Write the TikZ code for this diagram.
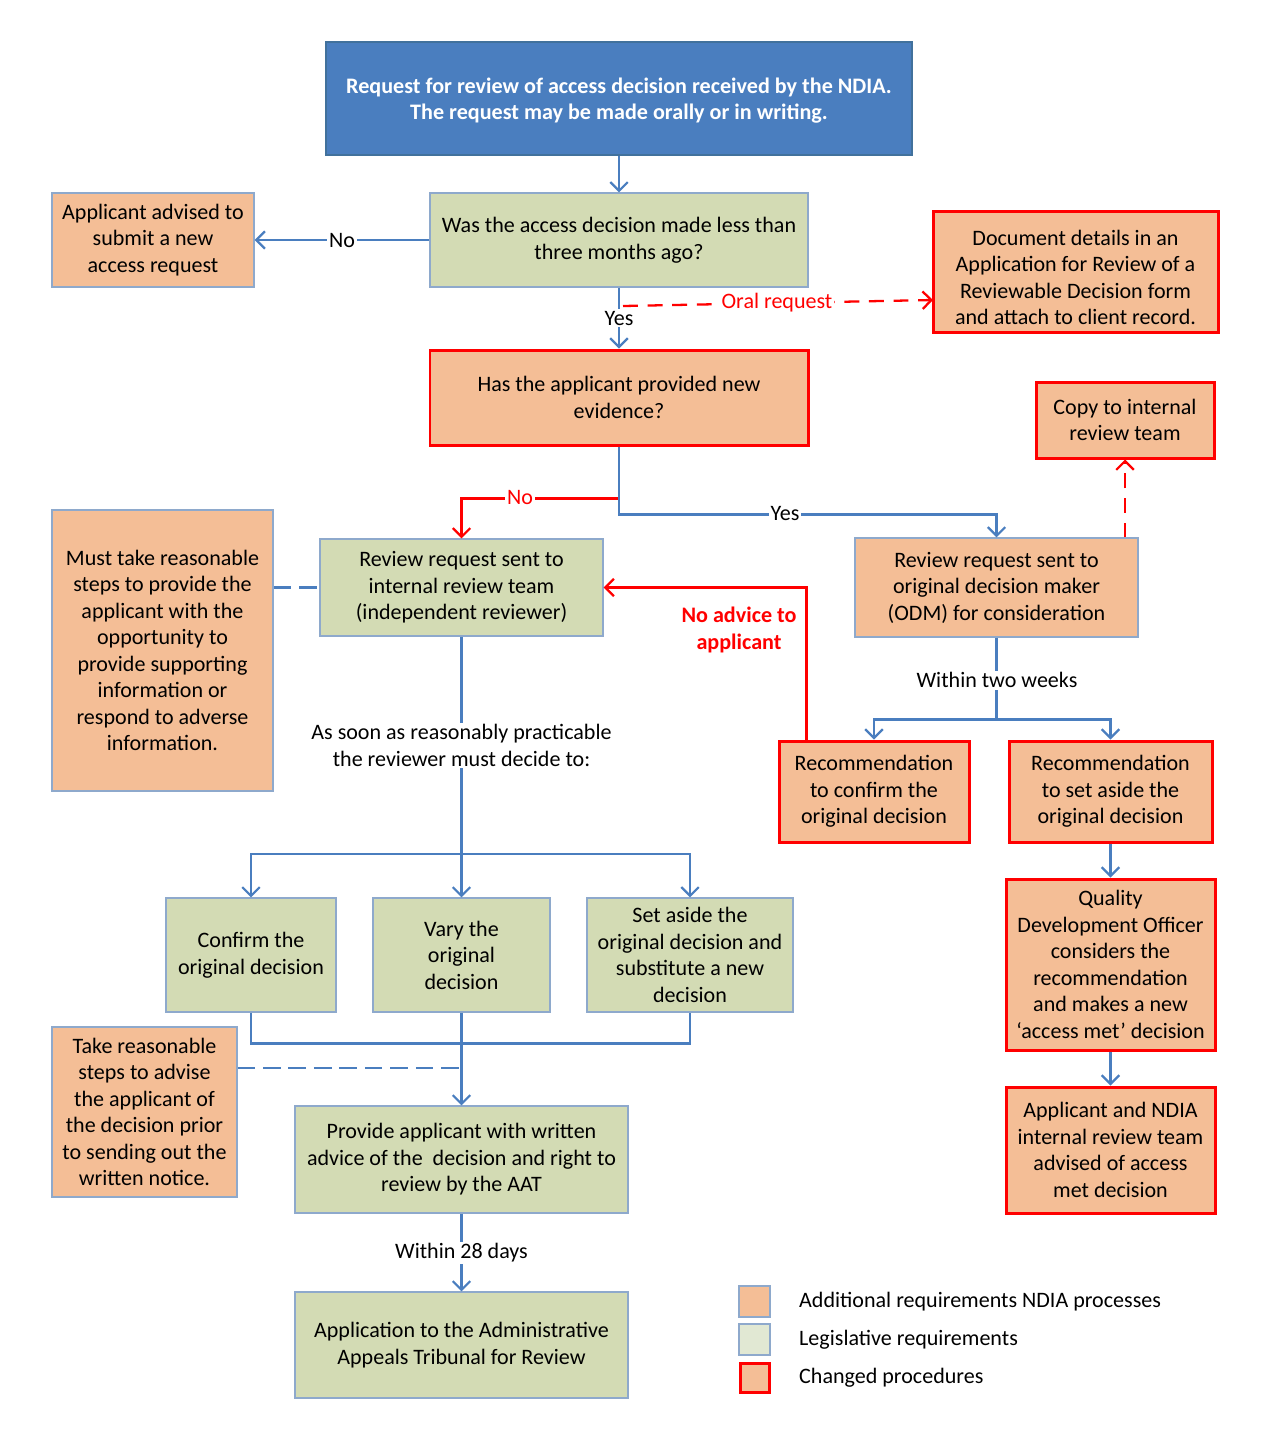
\documentclass[tikz,border=0pt]{standalone}
\usepackage{fontspec}
\setmainfont{Carlito}
\usetikzlibrary{arrows.meta}
\definecolor{hblue}{HTML}{4A7EBF}
\definecolor{hborder}{HTML}{41719C}
\definecolor{lblue}{HTML}{4A7EBF}
\definecolor{gfill}{HTML}{D3DBB4}
\definecolor{ofill}{HTML}{F4BE96}
\definecolor{bborder}{HTML}{8EA9CC}
\definecolor{legg}{HTML}{E1E8D3}
\definecolor{rred}{HTML}{FF0000}
\begin{document}
\begin{tikzpicture}[x=0.02cm,y=-0.02cm,
  font=\fontsize{12.55}{15.1}\selectfont,
  bx/.style 2 args={minimum width=#1*0.02cm, minimum height=#2*0.02cm, inner sep=0pt, align=center},
  hdr/.style={fill=hblue, draw=hborder, line width=0.6pt, text=white, font=\fontsize{12.6}{15.1}\selectfont\bfseries},
  grn/.style={fill=gfill, draw=bborder, line width=0.6pt},
  org/.style={fill=ofill, draw=bborder, line width=0.6pt},
  chg/.style={fill=ofill, draw=rred, line width=1.7pt},
  arr/.style={-{Straight Barb[length=5pt,width=10pt]}},
  bl/.style={draw=lblue, line width=1.3pt},
  rd/.style={draw=rred, line width=1.3pt},
  bdash/.style={draw=lblue, line width=1.3pt, dash pattern=on 10pt off 4.5pt},
  rdash/.style={draw=rred, line width=1.3pt, dash pattern=on 8.5pt off 5.5pt},
  lbl/.style={fill=white, inner sep=1pt},
  rlbl/.style={fill=white, inner sep=1pt, text=rred}
]
\useasboundingbox (0,0) rectangle (1273,1441);

% boxes
\node[hdr, bx={586}{113}] (head) at (619,98.5) {};
\node[align=center, inner sep=0pt, text=white, font=\fontsize{12.6}{15.1}\selectfont\bfseries] (headt) at (619,100.5) {Request for review of access decision received by the NDIA.\\The request may be made orally or in writing.};
\node[grn, bx={378}{94}] (q1) at (619,240) {Was the access decision made less than\\three months ago?};
\node[org, bx={202}{94}] (adv) at (153,240) {Applicant advised to\\submit a new\\access request};
\node[chg, bx={285}{121}] (doc) at (1075.5,271.5) {};
\node[align=center, inner sep=0pt] (doct) at (1075.5,277.5) {Document details in an\\Application for Review of a\\Reviewable Decision form\\and attach to client record.};
\node[chg, bx={378}{95}] (has) at (619,397.5) {Has the applicant provided new\\evidence?};
\node[chg, bx={178}{76}] (copy) at (1125,420) {Copy to internal\\review team};
\node[grn, bx={283}{97}] (rint) at (461.5,587.5) {Review request sent to\\internal review team\\(independent reviewer)};
\node[org, bx={221}{281}] (must) at (162.5,650.5) {Must take reasonable\\steps to provide the\\applicant with the\\opportunity to\\provide supporting\\information or\\respond to adverse\\information.};
\node[org, bx={283}{99}] (odm) at (996.5,587.5) {Review request sent to\\original decision maker\\(ODM) for consideration};
\node[chg, bx={190}{101}] (recc) at (874,791.5) {Recommendation\\to confirm the\\original decision};
\node[chg, bx={203}{101}] (recs) at (1110.5,791.5) {Recommendation\\to set aside the\\original decision};
\node[chg, bx={209}{171}] (qdo) at (1110.5,964.5) {Quality\\Development Officer\\considers the\\recommendation\\and makes a new\\‘access met’ decision};
\node[chg, bx={209}{126}] (appn) at (1110.5,1150) {Applicant and NDIA\\internal review team\\advised of access\\met decision};
\node[grn, bx={170}{114}] (conf) at (251,955) {Confirm the\\original decision};
\node[grn, bx={177}{114}] (vary) at (461.5,955) {Vary the\\original\\decision};
\node[grn, bx={206}{114}] (seta) at (690,955) {Set aside the\\original decision and\\substitute a new\\decision};
\node[org, bx={185}{170}] (take) at (144.5,1112) {Take reasonable\\steps to advise\\the applicant of\\the decision prior\\to sending out the\\written notice.};
\node[grn, bx={333}{107}] (prov) at (461.5,1159.5) {Provide applicant with written\\advice of the\ \ decision and right to\\review by the AAT};
\node[grn, bx={333}{106}] (aat) at (461.5,1345) {Application to the Administrative\\Appeals Tribunal for Review};

% legend
\node[org, bx={31}{31}] (lg1) at (754.5,1301.5) {};
\node[fill=legg, draw=bborder, line width=0.6pt, bx={31}{31}] (lg2) at (754.5,1339.5) {};
\node[chg, bx={29}{29}] (lg3) at (754.5,1377.5) {};
\node[anchor=west] (lt1) at (793,1302) {Additional requirements NDIA processes};
\node[anchor=west] (lt2) at (793,1339.5) {Legislative requirements};
\node[anchor=west] (lt3) at (793,1377.5) {Changed procedures};

% connectors
\draw[bl,arr] (head.south) -- (q1.north);
\draw[bl,arr] (q1.west) -- node[lbl]{No} (adv.east);
\draw[bl,arr] (q1.south) -- (has.north);
\node[lbl] (yes1) at (619,318) {Yes};

\coordinate (oralS) at (623,306);
\coordinate (oralE) at (933,300);
\draw[rdash,arr] (oralS) -- (oralE);
\node[rlbl] (oral) at (777,302.5) {Oral request};

\draw[rd,arr] (has.south) -- ++(0,52) -| (rint.north);
\node[rlbl] (no2) at (520,497.5) {No};
\draw[bl,arr] (has.south) -- ++(0,68) -| (odm.north);
\node[lbl] (yes2) at (785,513) {Yes};

\draw[rdash,arr] (copy.south |- odm.north) -- (copy.south);
\draw[bdash] (must.east |- rint.west) -- (rint.west);

\draw[rd,arr] (recc.north west) ++(29,0) |- (rint.east);
\node[text=rred, align=center, font=\fontsize{12.6}{15.1}\selectfont\bfseries] (noadv) at (739,630) {No advice to\\applicant};

\draw[bl] (odm.south) -- ++(0,82) coordinate (odmj);
\draw[bl,arr] (odmj) -| (recc.north);
\draw[bl,arr] (odmj) -| (recs.north);
\node[lbl] (w2) at (997,680) {Within two weeks};

\draw[bl,arr] (recs.south) -- (qdo.north);
\draw[bl,arr] (qdo.south) -- (appn.north);

\draw[bl] (rint.south) -- (461.5,854) coordinate (rj);
\node[lbl, align=center] (asap) at (461.5,745.5) {As soon as reasonably practicable\\the reviewer must decide to:};
\draw[bl,arr] (rj) -| (conf.north);
\draw[bl,arr] (rj) -| (seta.north);
\draw[bl,arr] (rj) -- (vary.north);

\draw[bl] (conf.south) -- ++(0,31) -| (seta.south);
\draw[bl,arr] (vary.south) -- (prov.north);
\coordinate (tk) at (461.5,1068);
\draw[bdash] (take.east |- tk) -- (tk);

\draw[bl,arr] (prov.south) -- (aat.north);
\node[lbl] (w28) at (461.5,1253) {Within 28 days};
\end{tikzpicture}
\end{document}
